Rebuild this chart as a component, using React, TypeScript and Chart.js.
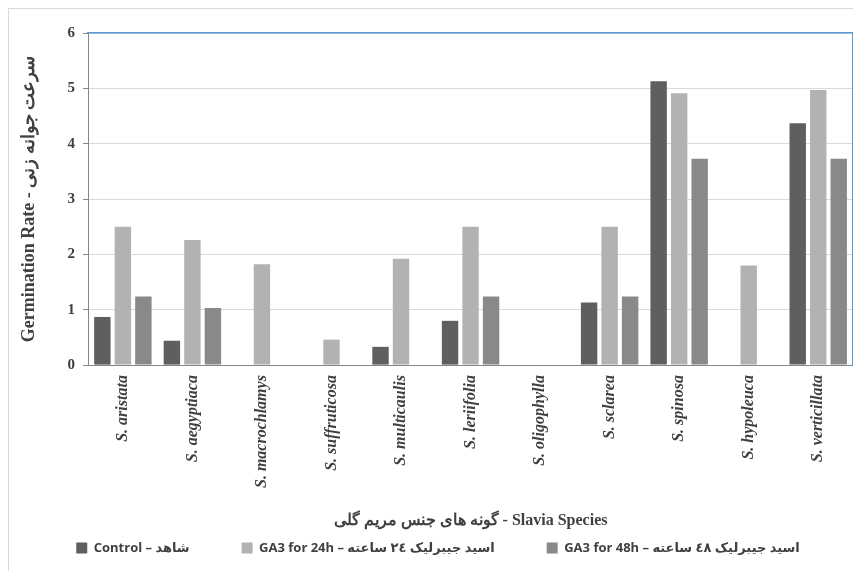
import React, { useEffect, useRef } from "react";
import { Chart, registerables } from "chart.js";

Chart.register(...registerables);

const species = [
  "S. aristata",
  "S. aegyptiaca",
  "S. macrochlamys",
  "S. suffruticosa",
  "S. multicaulis",
  "S. leriifolia",
  "S. oligophylla",
  "S. sclarea",
  "S. spinosa",
  "S. hypoleuca",
  "S. verticillata",
];
const controlValues = [0.87, 0.44, 0, 0, 0.33, 0.8, 0, 1.13, 5.13, 0, 4.37];
const ga24Values = [2.5, 2.26, 1.82, 0.46, 1.92, 2.5, 0, 2.5, 4.91, 1.8, 4.97];
const ga48Values = [1.24, 1.03, 0, 0, 0, 1.24, 0, 1.24, 3.73, 0, 3.73];
const seriesLabels = [
  "Control – شاهد",
  "GA3 for 24h – اسید جیبرلیک ٢٤ ساعته",
  "GA3 for 48h – اسید جیبرلیک ٤٨ ساعته",
];
const seriesColors = ["#5f5f5f", "#b2b2b2", "#898989"];
const yMin = 0;
const yMax = 6;
const yStep = 1;
const xTitle = "گونه های جنس مریم گلی - Slavia Species";
const yTitle = "Germination Rate - سرعت جوانه زنی";

const SERIF = '"Liberation Serif", "Times New Roman", "DejaVu Serif", serif';
const SANS = '"Open Sans", "DejaVu Sans", sans-serif';
const TEXT = "#404040";

export default function App() {
  const ref = useRef<HTMLCanvasElement | null>(null);

  useEffect(() => {
    if (!ref.current) return;
    const values = [controlValues, ga24Values, ga48Values];
    const chart = new Chart(ref.current, {
      type: "bar",
      data: {
        labels: species,
        datasets: values.map((v, i) => ({
          label: seriesLabels[i],
          data: v,
          backgroundColor: seriesColors[i],
          borderWidth: 0,
          categoryPercentage: 0.885,
          barPercentage: 0.8,
        })),
      },
      options: {
        responsive: false,
        animation: false,
        devicePixelRatio: 1,
        layout: { padding: { top: 24, right: 2, bottom: 6.5, left: 14 } },
        plugins: {
          tooltip: { enabled: false },
          legend: {
            position: "bottom",
            align: "center",
            labels: {
              boxWidth: 11,
              boxHeight: 11,
              padding: 52,
              color: TEXT,
              font: { family: SANS, size: 13, weight: "bold" },
            },
          },
        },
        scales: {
          x: {
            type: "category",
            offset: true,
            grid: { display: false, drawTicks: false },
            border: { display: true, color: "#868686", width: 1 },
            ticks: {
              autoSkip: false,
              minRotation: 90,
              maxRotation: 90,
              padding: 10,
              color: TEXT,
              font: { family: SERIF, size: 16, style: "italic", weight: "bold" },
            },
            title: {
              display: true,
              text: xTitle,
              color: TEXT,
              font: { family: SERIF, size: 16, weight: "bold" },
              padding: { top: 13.4, bottom: -41.1 },
            },
          },
          x2: {
            type: "category",
            position: "top",
            offset: true,
            grid: { display: false, drawTicks: false },
            ticks: { display: false },
            border: { display: true, color: "#5b9bd5", width: 1.5 },
          },
          y: {
            min: yMin,
            max: yMax,
            ticks: {
              stepSize: yStep,
              padding: 8,
              color: TEXT,
              font: { family: SERIF, size: 15, weight: "bold" },
            },
            grid: { color: "#d9d9d9", tickColor: "#868686", tickLength: 5 },
            border: { display: true, color: "#868686", width: 1 },
            title: {
              display: true,
              text: yTitle,
              color: TEXT,
              font: { family: SERIF, size: 18, weight: "bold" },
              padding: { top: -4.8, bottom: 19.8 },
            },
          },
          y2: {
            position: "right",
            min: yMin,
            max: yMax,
            grid: { display: false, drawTicks: false },
            ticks: { display: false },
            border: { display: true, color: "#5b9bd5", width: 1.5 },
          },
        },
      },
    });
    return () => chart.destroy();
  }, []);

  return (
    <div
      style={{
        width: 853,
        height: 563,
        boxSizing: "border-box",
        borderLeft: "1px solid #d9d9d9",
        borderTop: "1px solid #d9d9d9",
        overflow: "hidden",
      }}
    >
      <canvas ref={ref} width={846} height={562} style={{ display: "block" }} />
    </div>
  );
}
